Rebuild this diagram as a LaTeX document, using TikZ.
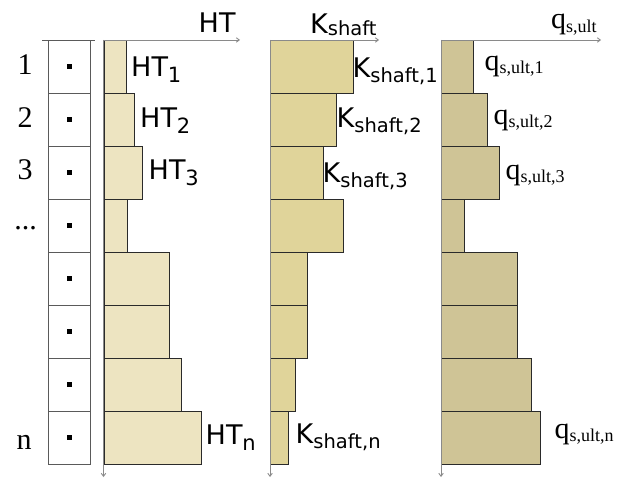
\documentclass[tikz,border=0pt]{standalone}
\usepackage{fontspec}
\setmainfont{Liberation Serif}
\newfontfamily\sansf{DejaVu Sans}
\usetikzlibrary{arrows.meta}

\definecolor{htfill}{HTML}{EDE4C1}
\definecolor{kfill}{HTML}{E0D49A}
\definecolor{qfill}{HTML}{CFC496}
\definecolor{axisgray}{HTML}{8A8A8A}
\definecolor{barline}{HTML}{2A2A2A}
\definecolor{cellline}{HTML}{5A5A5A}

% sans label with a lowered subscript: main text, subscript, drop, subscript size
\newcommand\sanslab[4]{{\sansf\fontsize{27}{27}\selectfont #1\raisebox{#3}{\fontsize{#4}{#4}\selectfont #2}}}
% serif q label with a lowered subscript: subscript, drop
\newcommand\qlab[2]{{\fontsize{30}{30}\selectfont q\raisebox{#2}{\fontsize{18}{18}\selectfont #1}}}

\begin{document}
\begin{tikzpicture}[x=1pt,y=-1pt,
  bar/.style={draw=barline,line width=0.9pt},
  axisline/.style={draw=axisgray,line width=0.9pt,-{Straight Barb[length=3pt,width=4.5pt]}},
  cell/.style={draw=cellline,line width=0.8pt},
  lab/.style={anchor=base west,inner sep=0pt},
  num/.style={anchor=base,inner sep=0pt,font=\fontsize{30}{30}\selectfont}]
\useasboundingbox (0,0) rectangle (629,478);

% layer column: cells with a marker in each
\draw[cell] (48.5,40) rectangle (90.5,464);
\draw[cell] (42,40) -- (95,40);
\foreach \i in {1,...,7}
  \draw[cell] (48.5,40+53*\i) -- (90.5,40+53*\i);
\foreach \i in {0,...,7}
  \fill (66.8,64+53*\i) rectangle (71.8,69+53*\i);

% layer numbers
\node[num] (n1) at (25,75) {1};
\node[num] (n2) at (25,128) {2};
\node[num] (n3) at (25,180) {3};
\node[num] (ndots) at (25.5,230) {...};
\node[num] (nn) at (24,449) {n};

% HT bars
\foreach \w [count=\i from 0] in {126.3,134.3,142.7,127.5,169.7,169.7,181.7,201.3}
  \draw[bar,fill=htfill] (104,40+53*\i) rectangle (\w,93+53*\i);
% K_shaft bars
\foreach \w [count=\i from 0] in {353,336,323,343,307.3,307.3,295.3,288.7}
  \draw[bar,fill=kfill] (270.5,40+53*\i) rectangle (\w,93+53*\i);
% q_s,ult bars
\foreach \w [count=\i from 0] in {473.3,487,499.3,464,517.7,517.7,531.7,540.3}
  \draw[bar,fill=qfill] (441.5,40+53*\i) rectangle (\w,93+53*\i);

% axes
\coordinate (htO) at (103.5,40);
\coordinate (htX) at (240,40);
\coordinate (htY) at (103.5,477);
\coordinate (kO) at (270,40);
\coordinate (kX) at (379,40);
\coordinate (kY) at (270,477);
\coordinate (qO) at (441,40);
\coordinate (qX) at (601,40);
\coordinate (qY) at (441,477);
\foreach \o/\x/\y in {htO/htX/htY,kO/kX/kY,qO/qX/qY}{
  \draw[axisline] (\o) -- (\x);
  \draw[axisline] (\o) -- (\y);
}

% axis titles
\node[lab] (htT) at (198.5,33) {\sanslab{HT}{}{0pt}{19}};
\node[lab] (kT) at (310,34) {\sanslab{K}{shaft}{-2pt}{19.5}};
\node[lab] (qT) at (551,29) {\qlab{s,ult}{-4pt}};

% HT labels
\node[lab] (ht1) at (131,77) {\sanslab{HT}{1}{-6pt}{21}};
\node[lab] (ht2) at (140,128) {\sanslab{HT}{2}{-6pt}{21}};
\node[lab] (ht3) at (148.5,180) {\sanslab{HT}{3}{-6pt}{21}};
\node[lab] (htn) at (205.5,444) {\sanslab{HT}{n}{-6pt}{21}};

% K_shaft labels
\node[lab] (k1) at (352.5,78) {\sanslab{K}{shaft,1}{-5pt}{19.5}};
\node[lab] (k2) at (336.5,128) {\sanslab{K}{shaft,2}{-5pt}{19.5}};
\node[lab] (k3) at (322.5,183) {\sanslab{K}{shaft,3}{-5pt}{19.5}};
\node[lab] (kn) at (295.5,443) {\sanslab{K}{shaft,n}{-5pt}{19.5}};

% q_s,ult labels
\node[lab] (q1) at (484.5,71) {\qlab{s,ult,1}{-3pt}};
\node[lab] (q2) at (493.5,125) {\qlab{s,ult,2}{-3pt}};
\node[lab] (q3) at (505.5,180) {\qlab{s,ult,3}{-3pt}};
\node[lab] (qn) at (554.5,438) {\qlab{s,ult,n}{-3pt}};
\end{tikzpicture}
\end{document}
